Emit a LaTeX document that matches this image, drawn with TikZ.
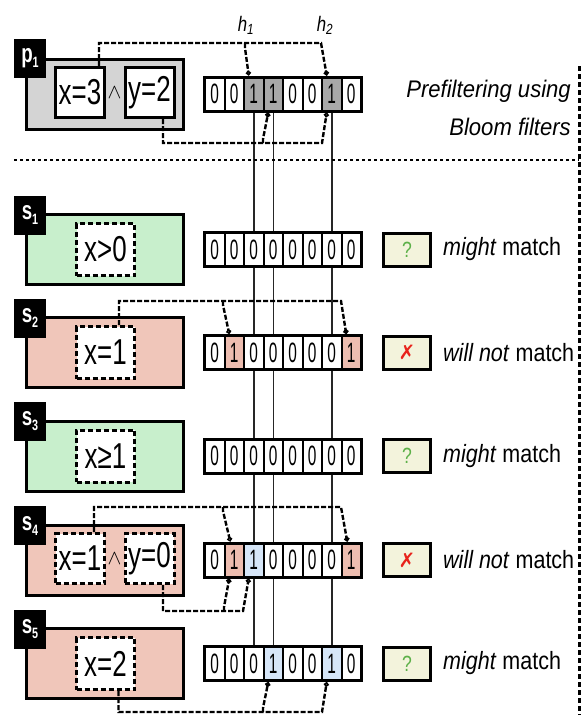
\documentclass[tikz,border=0pt]{standalone}
\usepackage{fontspec}
\setmainfont{Liberation Sans}
\newfontfamily\djv{DejaVu Sans}
\usepackage{graphicx}
\usetikzlibrary{arrows.meta,backgrounds,calc}
\definecolor{pgrey}{HTML}{D4D4D4}
\definecolor{cgrey}{HTML}{A8A8A8}
\definecolor{sgreen}{HTML}{C8EFCC}
\definecolor{spink}{HTML}{F0C6BA}
\definecolor{cpink}{HTML}{EDBDB0}
\definecolor{cblue}{HTML}{D6E6F8}
\definecolor{rfill}{HTML}{F3F3DC}
\definecolor{qgreen}{HTML}{5CB048}
\definecolor{xred}{HTML}{E8231C}
\newcommand{\nx}[2]{\scalebox{#1}[1]{#2}}
\newcommand{\labtxt}[2]{\nx{0.72}{\fontsize{26}{26}\selectfont\bfseries #1\raisebox{-5pt}{\fontsize{15}{15}\selectfont #2}}}
\newcommand{\ibtxt}[1]{\nx{0.72}{#1}}
\tikzset{
  frame/.style={fill=black,minimum width=160pt,minimum height=37pt,inner sep=0pt,outer sep=0pt},
  cell/.style={inner sep=0pt,outer sep=0pt,minimum width=17.5pt,minimum height=31pt,font=\fontsize{28}{28}\selectfont},
  srect/.style={draw,line width=3pt,minimum width=157pt,minimum height=70pt,inner sep=0pt},
  lab/.style={fill=black,minimum width=32pt,minimum height=39pt,inner sep=0pt,text=white},
  ibox/.style={draw,fill=white,line width=3pt,dash pattern=on 5pt off 3pt,inner sep=0pt,font=\fontsize{36}{36}\selectfont},
  iboxs/.style={ibox,minimum width=58pt,minimum height=52pt},
  iboxd/.style={ibox,minimum width=49pt,minimum height=50pt},
  res/.style={draw,line width=3pt,fill=rfill,minimum width=47pt,minimum height=33pt,inner sep=0pt},
  rtxt/.style={anchor=west,inner sep=0pt,font=\fontsize{25}{25}\selectfont},
  conn/.style={line width=2.4pt,dash pattern=on 5pt off 2pt},
  vline/.style={line width=1.5pt,draw=black!85},
  opentip/.style={-{Circle[open,length=5pt,width=5pt,line width=1.6pt]}},
  filltip/.style={-{Circle[length=5pt,width=5pt]}},
}
\newcommand{\bitrow}[3]{%
  \node[frame] (#1) at (283,#2) {};
  \foreach \d/\c [count=\i from 0] in {#3} {
    \node[cell,fill=\c] (#1c\i) at (214.75+19.5*\i,#2) {\nx{0.55}{\d}};
  }
}
\begin{document}
\begin{tikzpicture}[x=1pt,y=-1pt]
\useasboundingbox (0,0) rectangle (581,715);

% ---------- p1 ----------
\node[srect,fill=pgrey] (p1r) at (105,94.5) {};
\node[lab] (p1l) at (30,58) {\labtxt{p}{1}};
\node[iboxd,solid] (p1x) at (80,92.5) {\ibtxt{x=3}};
\node[iboxd,solid] (p1y) at (149.5,92.5) {\ibtxt{y=2}};
\node[inner sep=0pt] (p1a) at (114.5,93) {\fontsize{22}{22}\selectfont$\wedge$};
\bitrow{p1}{94}{0/white,0/white,1/cgrey,1/cgrey,0/white,0/white,1/cgrey,0/white}
\node[inner sep=0pt,font=\fontsize{21}{21}\selectfont] (h1) at (246,25) {\nx{0.8}{\itshape h\textsubscript{1}}};
\node[inner sep=0pt,font=\fontsize{21}{21}\selectfont] (h2) at (325,25) {\nx{0.8}{\itshape h\textsubscript{2}}};
\node[anchor=base east,inner sep=0pt,font=\fontsize{24}{24}\selectfont\itshape] (t1) at (571,97) {\nx{0.92}{Prefiltering using}};
\node[anchor=base east,inner sep=0pt,font=\fontsize{24}{24}\selectfont\itshape] (t2) at (571,135) {\nx{0.92}{Bloom filters}};

% separators
\coordinate (sepL) at (14,160);
\coordinate (sepR) at (579,160);
\coordinate (vtop) at (579,66);
\coordinate (vbot) at (579,715);
\draw[line width=2.5pt,dash pattern=on 2.5pt off 3.5pt] (sepL) -- (sepR);
\draw[line width=3pt,dash pattern=on 4.5pt off 3.5pt] (vtop) -- (vbot);

% ---------- s1 ----------
\node[srect,fill=sgreen] (s1r) at (105,249.5) {};
\node[lab] (s1l) at (30,215) {\labtxt{s}{1}};
\node[iboxs] (s1x) at (105.5,249.5) {\ibtxt{x>0}};
\bitrow{s1}{249.5}{0/white,0/white,0/white,0/white,0/white,0/white,0/white,0/white}
\node[res] (s1q) at (407,249.5) {\fontsize{22}{22}\selectfont\textcolor{qgreen}{\nx{0.8}{?}}};
\node[rtxt] (s1t) at (443,249.5) {\nx{0.86}{\textit{might} match}};

% ---------- s2 ----------
\node[srect,fill=spink] (s2r) at (105,352.5) {};
\node[lab] (s2l) at (30,318) {\labtxt{s}{2}};
\node[iboxs] (s2x) at (105.5,352.5) {\ibtxt{x=1}};
\bitrow{s2}{352.5}{0/white,1/cpink,0/white,0/white,0/white,0/white,0/white,1/cpink}
\node[res] (s2q) at (407,352.5) {\fontsize{20}{20}\selectfont\textcolor{xred}{\djv ✗}};
\node[rtxt] (s2t) at (443,352.5) {\nx{0.86}{\textit{will not} match}};

% ---------- s3 ----------
\node[srect,fill=sgreen] (s3r) at (105,456) {};
\node[lab] (s3l) at (30,421.5) {\labtxt{s}{3}};
\node[iboxs] (s3x) at (105.5,456) {\ibtxt{x≥1}};
\bitrow{s3}{456}{0/white,0/white,0/white,0/white,0/white,0/white,0/white,0/white}
\node[res] (s3q) at (407,456) {\fontsize{22}{22}\selectfont\textcolor{qgreen}{\nx{0.8}{?}}};
\node[rtxt] (s3t) at (443,456) {\nx{0.86}{\textit{might} match}};

% ---------- s4 ----------
\node[srect,fill=spink] (s4r) at (105,560) {};
\node[lab] (s4l) at (30,525.5) {\labtxt{s}{4}};
\node[iboxd] (s4x) at (80,558.5) {\ibtxt{x=1}};
\node[iboxd] (s4y) at (149.5,558.5) {\ibtxt{y=0}};
\node[inner sep=0pt] (s4a) at (114.5,559) {\fontsize{22}{22}\selectfont$\wedge$};
\bitrow{s4}{560}{0/white,1/cpink,1/cblue,0/white,0/white,0/white,0/white,1/cpink}
\node[res] (s4q) at (407,560) {\fontsize{20}{20}\selectfont\textcolor{xred}{\djv ✗}};
\node[rtxt] (s4t) at (443,560) {\nx{0.86}{\textit{will not} match}};

% ---------- s5 ----------
\node[srect,fill=spink] (s5r) at (105,663.5) {};
\node[lab] (s5l) at (30,629) {\labtxt{s}{5}};
\node[iboxs] (s5x) at (105.5,663.5) {\ibtxt{x=2}};
\bitrow{s5}{663.5}{0/white,0/white,0/white,1/cblue,0/white,0/white,1/cblue,0/white}
\node[res] (s5q) at (407,663.5) {\fontsize{22}{22}\selectfont\textcolor{qgreen}{\nx{0.8}{?}}};
\node[rtxt] (s5t) at (443,663.5) {\nx{0.86}{\textit{might} match}};

% vertical lines behind arrays
\begin{scope}[on background layer]
\foreach \k in {2,3,6} \draw[vline] (p1c\k.south) -- (s5c\k.north);
\end{scope}

% ---------- hash connectors ----------
% p1 top (x=3)
\coordinate (p1b) at (245,43);
\draw[conn,filltip] ([xshift=19pt]p1x.north) |- (321,43) -- ([xshift=-5pt,yshift=3pt]p1c6.north);
\draw[conn,opentip] (p1b) -- ++(0,5) -- ([xshift=-5pt,yshift=3pt]p1c2.north);
% p1 bottom (y=2)
\coordinate (p1d) at (263,143);
\draw[conn,opentip] ([xshift=13.5pt]p1y.south) |- (322,143) -- ([xshift=-5pt,yshift=-3pt]p1c6.south);
\draw[conn,filltip] (p1d) -- ++(0,-4) -- ([xshift=-5pt,yshift=-3pt]p1c3.south);
% s2
\coordinate (s2b) at (223,301);
\draw[conn,filltip] ([xshift=13.5pt]s2x.north) |- (341,301) -- ([xshift=-5pt,yshift=3pt]s2c7.north);
\draw[conn,opentip] (s2b) -- ++(0,4) -- ([xshift=-5pt,yshift=3pt]s2c1.north);
% s4 top
\coordinate (s4b) at (223,507);
\draw[conn,filltip] ([xshift=14pt]s4x.north) |- (341,507) -- ([xshift=-4pt,yshift=3pt]s4c7.north);
\draw[conn,opentip] (s4b) -- ++(0,4) -- ([xshift=-4pt,yshift=3pt]s4c1.north);
% s4 bottom
\coordinate (s4d) at (224,611);
\draw[conn,opentip] ([xshift=13.5pt]s4y.south) |- (243,611) -- ([xshift=-5pt,yshift=-3pt]s4c2.south);
\draw[conn,filltip] (s4d) -- ++(0,-4) -- ([xshift=-5pt,yshift=-3pt]s4c1.south);
% s5 bottom
\coordinate (s5d) at (263,712);
\draw[conn,opentip] ([xshift=13pt]s5x.south) |- (322,712) -- ([xshift=-5pt,yshift=-3pt]s5c6.south);
\draw[conn,filltip] (s5d) -- ++(0,-4) -- ([xshift=-5pt,yshift=-3pt]s5c3.south);
\end{tikzpicture}
\end{document}
